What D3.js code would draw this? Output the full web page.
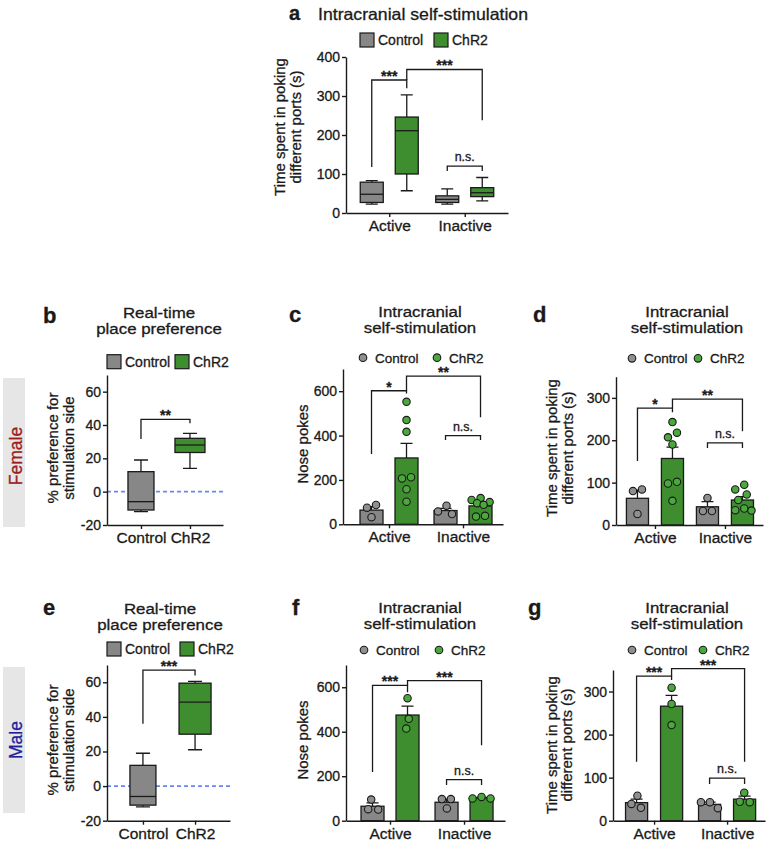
<!DOCTYPE html>
<html><head><meta charset="utf-8">
<script src="https://cdn.jsdelivr.net/npm/d3@7"></script>
<style>
body{margin:0;background:#fff}
svg{display:block}
text{font-family:"Liberation Sans",Arial,Helvetica,sans-serif;fill:#1a1a1a;stroke:#1a1a1a;stroke-width:0.3px}
</style>
</head><body>
<svg id="fig" width="770" height="843"></svg>
<script>
// ================= DATA =================
const groups = ["Active", "Inactive"];
const series = ["Control", "ChR2"];
const rtppCats = ["Control", "ChR2"];

// Panel a – box stats [min, q1, median, q3, max] for Active, Inactive
const aControlBox = [[23, 27, 48, 79, 83], [23, 27, 35, 44, 62]];
const aChR2Box = [[57, 100, 211, 246, 303], [31, 42, 52, 65, 91]];
const aTicks = [0, 100, 200, 300, 400];

// Panels b (female) and e (male) – real-time place preference box stats per category
const bBox = [[-12, -11, -6, 12, 19], [14, 23.5, 28, 32, 35]];
const eBox = [[-12, -11, -6, 12, 19], [21, 30, 48.5, 59.5, 60.5]];
const rtppTicks = [-20, 0, 20, 40, 60];

// Panel c – female nose pokes
const cControlMean = [64, 62], cControlSem = [15, 10];
const cChR2Mean = [299, 83], cChR2Sem = [66, 10];
const cControlPts = [[87, 75, 32], [84, 46, 58]];
const cChR2Pts = [[552, 470, 417, 212, 207, 158, 102], [118, 110, 100, 95, 88, 38, 35]];

// Panel d – female time spent
const dControlMean = [63, 43], dControlSem = [19, 12];
const dChR2Mean = [157, 59], dChR2Sem = [27, 8];
const dControlPts = [[84, 80, 26], [64, 33, 33]];
const dChR2Pts = [[243, 218, 207, 190, 102, 98, 57], [95, 84, 72, 59, 39, 35, 34]];

// Panel f – male nose pokes
const fControlMean = [65, 83], fControlSem = [15, 14];
const fChR2Mean = [475, 102], fChR2Sem = [40, 3];
const fControlPts = [[95, 50, 52], [97, 97, 55]];
const fChR2Pts = [[551, 458, 414], [100, 107, 100]];

// Panel g – male time spent
const gControlMean = [42, 38], gControlSem = [8, 5];
const gChR2Mean = [266, 50], gChR2Sem = [25, 7];
const gControlPts = [[58, 30, 39], [43, 43, 29]];
const gChR2Pts = [[309, 271, 222], [65, 43, 44]];

const pokeTicks = [0, 200, 400, 600];
const timeTicks = [0, 100, 200, 300];

// Significance brackets: [fromGroup, fromSeries, toGroup, toSeries, top, leftEnd, rightEnd, label]
const aSig = [["Active","Control","Active","ChR2",341,118,320,"***"],["Active","ChR2","Inactive","ChR2",368,341,238,"***"],["Inactive","Control","Inactive","ChR2",120,108,108,"n.s."]];
const cSig = [["Active","Control","Active","ChR2",602,317,590,"*"],["Active","ChR2","Inactive","ChR2",668,602,482,"**"],["Inactive","Control","Inactive","ChR2",400,380,380,"n.s."]];
const dSig = [["Active","Control","Active","ChR2",276,151,266,"*"],["Active","ChR2","Inactive","ChR2",297,276,221,"**"],["Inactive","Control","Inactive","ChR2",194,182,182,"n.s."]];
const fSig = [["Active","Control","Active","ChR2",608,219,578,"***"],["Active","ChR2","Inactive","ChR2",630,608,339,"***"],["Inactive","Control","Inactive","ChR2",185,160,160,"n.s."]];
const gSig = [["Active","Control","Active","ChR2",336,137,327,"***"],["Active","ChR2","Inactive","ChR2",353,336,137,"***"],["Inactive","Control","Inactive","ChR2",99,85,85,"n.s."]];
// RTPP brackets: [fromCat, toCat, top, leftEnd, rightEnd, label]
const bSig = [["Control","ChR2",43.4,31.6,41,"**"]];
const eSig = [["Control","ChR2",67,36,64,"***"]];

const titleICSS = ["Intracranial", "self-stimulation"];
const titleRTPP = ["Real-time", "place preference"];
const labelTime = ["Time spent in poking", "different ports (s)"];
const labelPokes = ["Nose pokes"];
const labelPref = ["% preference for", "stimulation side"];

// ================= STYLE / LAYOUT =================
const svg = d3.select("#fig");
const INK = "#1a1a1a";
const COL = {Control: "#878787", ChR2: "#3e8e2f"};
const DOT = {Control: "#8f8f8f", ChR2: "#4aa83c"};
const LW = 1.4;

function stretch(sel, k) {
  const w = sel.node().getComputedTextLength();
  sel.attr("textLength", w * k).attr("lengthAdjust", "spacingAndGlyphs");
  return sel;
}
function styleAxis(ax, fs) {
  ax.attr("font-family", null).attr("font-size", null);
  ax.selectAll(".domain, .tick line").attr("stroke", INK).attr("stroke-width", LW);
  ax.selectAll("text").attr("font-size", fs).attr("fill", INK);
}
function yAxis(g, y, ticks, x) {
  const ax = g.append("g").attr("transform", `translate(${x},0)`)
    .call(d3.axisLeft(y).tickValues(ticks).tickSize(4).tickSizeOuter(0).tickPadding(2).tickFormat(d => String(d)));
  styleAxis(ax, 14);
}
function xAxis(g, x, yPix) {
  const ax = g.append("g").attr("transform", `translate(0,${yPix})`)
    .call(d3.axisBottom(x).tickSize(4).tickSizeOuter(0).tickPadding(3));
  styleAxis(ax, 15.5);
}
function title(g, letter, lx, ly, lines, cx, y0, anchor) {
  g.append("text").attr("x", lx).attr("y", ly).attr("font-weight", "bold").attr("font-size", anchor ? 20 : 22).text(letter);
  lines.forEach((t, i) => {
    const tx = g.append("text").attr("x", cx).attr("y", y0 + i * 16)
      .attr("text-anchor", anchor || "middle").attr("font-size", anchor ? 16.5 : 15.2).text(t);
    stretch(tx, anchor ? 1.07 : 1.11);
  });
}
function yLabel(g, lines, xs, cy) {
  lines.forEach((t, i) => g.append("text")
    .attr("transform", `translate(${xs[i]},${cy}) rotate(-90)`)
    .attr("text-anchor", "middle").attr("font-size", 15).text(t));
}
function legend(g, kind, xs, y) {
  series.forEach((s, i) => {
    if (kind === "box") {
      g.append("rect").attr("x", xs[i]).attr("y", y - 7).attr("width", 14).attr("height", 14)
        .attr("fill", COL[s]).attr("stroke", INK).attr("stroke-width", 1.2);
      g.append("text").attr("x", xs[i] + 18).attr("y", y + 5).attr("font-size", 14).text(s);
    } else {
      g.append("circle").attr("cx", xs[i]).attr("cy", y).attr("r", 3.8)
        .attr("fill", DOT[s]).attr("stroke", INK).attr("stroke-width", 1.1);
      g.append("text").attr("x", xs[i] + 12).attr("y", y + 5).attr("font-size", 13.5).text(s);
    }
  });
}
function bracket(g, x1, x2, y, top, l, r, label) {
  g.append("path").attr("d", `M${x1},${y(l)}V${y(top)}H${x2}V${y(r)}`)
    .attr("fill", "none").attr("stroke", INK).attr("stroke-width", 1.3);
  const ns = label === "n.s.";
  g.append("text").attr("x", (x1 + x2) / 2).attr("y", ns ? y(top) - 5 : y(top) + 1)
    .attr("text-anchor", "middle").attr("font-size", ns ? 12.5 : 14)
    .attr("font-weight", ns ? "normal" : "bold").text(label);
}
// simple beeswarm offsets (pixels) for a set of values
function swarm(vals, y, maxOff) {
  const D = 10;
  const order = vals.map((v, i) => i).sort((a, b) => vals[b] - vals[a]);
  const pos = new Array(vals.length), py = vals.map(v => y(v));
  const placed = [];
  order.forEach(i => {
    let best = null, bestScore = -1;
    const cands = [0];
    for (let k = 0.5; k <= maxOff; k += 0.5) { cands.push(-k, k); }
    for (const c of cands) {
      let md = Infinity;
      placed.forEach(p => { md = Math.min(md, Math.hypot(c - pos[p], py[i] - py[p])); });
      if (md >= D) { best = c; break; }
      if (md > bestScore) { bestScore = md; best = c; }
    }
    pos[i] = best; placed.push(i);
  });
  // centre each touching cluster
  const comp = vals.map((v, i) => i);
  const find = a => comp[a] === a ? a : (comp[a] = find(comp[a]));
  for (let i = 0; i < vals.length; i++) for (let j = i + 1; j < vals.length; j++)
    if (Math.hypot(pos[i] - pos[j], py[i] - py[j]) < D * 1.05) comp[find(i)] = find(j);
  const sums = {};
  vals.forEach((v, i) => { const r = find(i); sums[r] = sums[r] || [0, 0]; sums[r][0] += pos[i]; sums[r][1]++; });
  return pos.map((p, i) => { const s = sums[find(i)]; return Math.max(-maxOff, Math.min(maxOff, p - s[0] / s[1])); });
}
function innerScale() {
  return d3.scaleBand().domain(series).range([-35, 35]).paddingInner(0.343).paddingOuter(0.1715);
}

// ---------- bar + dot panels ----------
function barPanel(cfg, d) {
  const g = svg.append("g");
  const y = d3.scaleLinear().domain(cfg.yDom).range(cfg.yRange);
  const x = d3.scalePoint().domain(groups).range(cfg.axX).padding(cfg.pad).align(cfg.align);
  const inner = innerScale();
  const bw = inner.bandwidth() * cfg.bwScale;
  const cxOf = (gr, s) => x(gr) + inner(s) + inner.bandwidth() / 2;
  series.forEach(s => groups.forEach((gr, gi) => {
    const cx = cxOf(gr, s), m = d.mean[s][gi], e = d.sem[s][gi];
    g.append("rect").attr("x", cx - bw / 2).attr("y", y(m)).attr("width", bw).attr("height", y(0) - y(m))
      .attr("fill", COL[s]).attr("stroke", INK).attr("stroke-width", 1.3);
    g.append("path").attr("d", `M${cx},${y(m)}V${y(m + e)}M${cx - 6},${y(m + e)}H${cx + 6}`)
      .attr("stroke", INK).attr("stroke-width", 1.3).attr("fill", "none");
    const vals = d.pts[s][gi];
    const offs = swarm(vals, y, bw / 2 - 2);
    vals.forEach((v, i) => g.append("circle").attr("cx", cx + offs[i]).attr("cy", y(v)).attr("r", 3.7)
      .attr("fill", DOT[s]).attr("stroke", INK).attr("stroke-width", 1.1));
  }));
  yAxis(g, y, cfg.ticks, cfg.axX[0]);
  xAxis(g, x, cfg.yRange[0]);
  d.sig.forEach(b => bracket(g, cxOf(b[0], b[1]), cxOf(b[2], b[3]), y, b[4], b[5], b[6], b[7]));
  title(g, cfg.letter, cfg.letterPos[0], cfg.letterPos[1], titleICSS, cfg.titleX, cfg.titleY);
  legend(g, "dot", cfg.legX, cfg.legY);
  yLabel(g, cfg.label, cfg.labelX, cfg.labelY);
}

function drawBox(g, cx, w, cap, st, y, fill) {
  const [mn, q1, md, q3, mx] = st;
  g.append("path").attr("d", `M${cx},${y(q3)}V${y(mx)}M${cx - cap / 2},${y(mx)}H${cx + cap / 2}M${cx},${y(q1)}V${y(mn)}M${cx - cap / 2},${y(mn)}H${cx + cap / 2}`)
    .attr("stroke", INK).attr("stroke-width", 1.3).attr("fill", "none");
  g.append("rect").attr("x", cx - w / 2).attr("y", y(q3)).attr("width", w).attr("height", y(q1) - y(q3))
    .attr("fill", fill).attr("stroke", INK).attr("stroke-width", 1.3);
  g.append("line").attr("x1", cx - w / 2).attr("x2", cx + w / 2).attr("y1", y(md)).attr("y2", y(md))
    .attr("stroke", INK).attr("stroke-width", 1.3);
}

// ---------- panel a ----------
(function () {
  const g = svg.append("g");
  const y = d3.scaleLinear().domain([0, 400]).range([213, 57]);
  const x = d3.scalePoint().domain(groups).range([346, 508]).padding(0.573).align(0.5);
  const inner = innerScale();
  const bw = inner.bandwidth();
  const cxOf = (gr, s) => x(gr) + inner(s) + bw / 2;
  const boxes = {Control: aControlBox, ChR2: aChR2Box};
  series.forEach(s => groups.forEach((gr, gi) => drawBox(g, cxOf(gr, s), bw, 12, boxes[s][gi], y, COL[s])));
  yAxis(g, y, aTicks, 346);
  xAxis(g, x, 213);
  aSig.forEach(b => bracket(g, cxOf(b[0], b[1]), cxOf(b[2], b[3]), y, b[4], b[5], b[6], b[7]));
  title(g, "a", 289, 19.5, ["Intracranial self-stimulation"], 318, 19.5, "start");
  legend(g, "box", [360, 434], 40);
  yLabel(g, labelTime, [285, 301], 127);
})();

// ---------- RTPP panels ----------
function rtppPanel(cfg, box, sig) {
  const g = svg.append("g");
  const y = d3.scaleLinear().domain([-20, 70]).range(cfg.yRange);
  const x = d3.scalePoint().domain(rtppCats).range(cfg.axX).padding(cfg.pad).align(cfg.align);
  g.append("line").attr("x1", cfg.axX[0]).attr("x2", cfg.axX[1]).attr("y1", y(0)).attr("y2", y(0))
    .attr("stroke", "#6a86f0").attr("stroke-width", 1.6).attr("stroke-dasharray", "4,3");
  rtppCats.forEach((c, i) => drawBox(g, x(c), cfg.boxW[i], 14, box[i], y, COL[c]));
  yAxis(g, y, rtppTicks, cfg.axX[0]);
  xAxis(g, x, cfg.yRange[0]);
  sig.forEach(b => bracket(g, x(b[0]), x(b[1]), y, b[2], b[3], b[4], b[5]));
  title(g, cfg.letter, 43, cfg.letterY, titleRTPP, cfg.titleX, cfg.titleY);
  legend(g, "box", cfg.legX, cfg.legY);
  yLabel(g, labelPref, [58, 74], cfg.labelY);
}

rtppPanel({yRange: [525, 375], axX: [107, 223], pad: 0.684, align: 0.507, boxW: [26, 30],
  letter: "b", letterY: 323, titleX: 159, titleY: 317.5, legX: [107, 175], legY: 361.7, labelY: 448}, bBox, bSig);
rtppPanel({yRange: [820.7, 665], axX: [107, 230], pad: 0.68, align: 0.507, boxW: [26, 32],
  letter: "e", letterY: 615, titleX: 160, titleY: 613.5, legX: [107, 180], legY: 649, labelY: 740}, eBox, eSig);

barPanel({yDom: [0, 700], yRange: [524.3, 369], axX: [343, 503], pad: 0.581, align: 0.535, ticks: pokeTicks, bwScale: 1,
  letter: "c", letterPos: [289, 322], titleX: 420, titleY: 316.5, legX: [363, 437], legY: 357.7,
  label: labelPokes, labelX: [308], labelY: 444},
  {mean: {Control: cControlMean, ChR2: cChR2Mean}, sem: {Control: cControlSem, ChR2: cChR2Sem},
   pts: {Control: cControlPts, ChR2: cChR2Pts}, sig: cSig});
barPanel({yDom: [0, 350], yRange: [525, 376.7], axX: [616, 763], pad: 0.55, align: 0.506, ticks: timeTicks, bwScale: 0.96,
  letter: "d", letterPos: [533, 322], titleX: 687, titleY: 316.5, legX: [632, 698], legY: 358.3,
  label: labelTime, labelX: [557, 573], labelY: 448},
  {mean: {Control: dControlMean, ChR2: dChR2Mean}, sem: {Control: dControlSem, ChR2: dChR2Sem},
   pts: {Control: dControlPts, ChR2: dChR2Pts}, sig: dSig});
barPanel({yDom: [0, 700], yRange: [820.7, 665], axX: [346, 505], pad: 0.574, align: 0.518, ticks: pokeTicks, bwScale: 1,
  letter: "f", letterPos: [292, 615], titleX: 420, titleY: 612.5, legX: [364, 439], legY: 650,
  label: labelPokes, labelX: [308], labelY: 740},
  {mean: {Control: fControlMean, ChR2: fChR2Mean}, sem: {Control: fControlSem, ChR2: fChR2Sem},
   pts: {Control: fControlPts, ChR2: fChR2Pts}, sig: fSig});
barPanel({yDom: [0, 350], yRange: [820.7, 670], axX: [613, 765], pad: 0.541, align: 0.52, ticks: timeTicks, bwScale: 0.96,
  letter: "g", letterPos: [528, 615], titleX: 687, titleY: 612.5, legX: [632, 703], legY: 650,
  label: labelTime, labelX: [557, 572], labelY: 745},
  {mean: {Control: gControlMean, ChR2: gChR2Mean}, sem: {Control: gControlSem, ChR2: gChR2Sem},
   pts: {Control: gControlPts, ChR2: gChR2Pts}, sig: gSig});

// ---------- side labels ----------
[["Female", 378, 149, 456, "#9b1c1c"], ["Male", 667, 146, 740, "#1f1f9a"]].forEach(([t, y0, h, cy, c]) => {
  svg.append("rect").attr("x", 3).attr("y", y0).attr("width", 22).attr("height", h).attr("fill", "#e6e6e6");
  svg.append("text").attr("transform", `translate(21.5,${cy}) rotate(-90)`).attr("text-anchor", "middle")
    .attr("font-size", 17.5).style("fill", c).style("stroke", c).text(t);
});
</script>
</body></html>
